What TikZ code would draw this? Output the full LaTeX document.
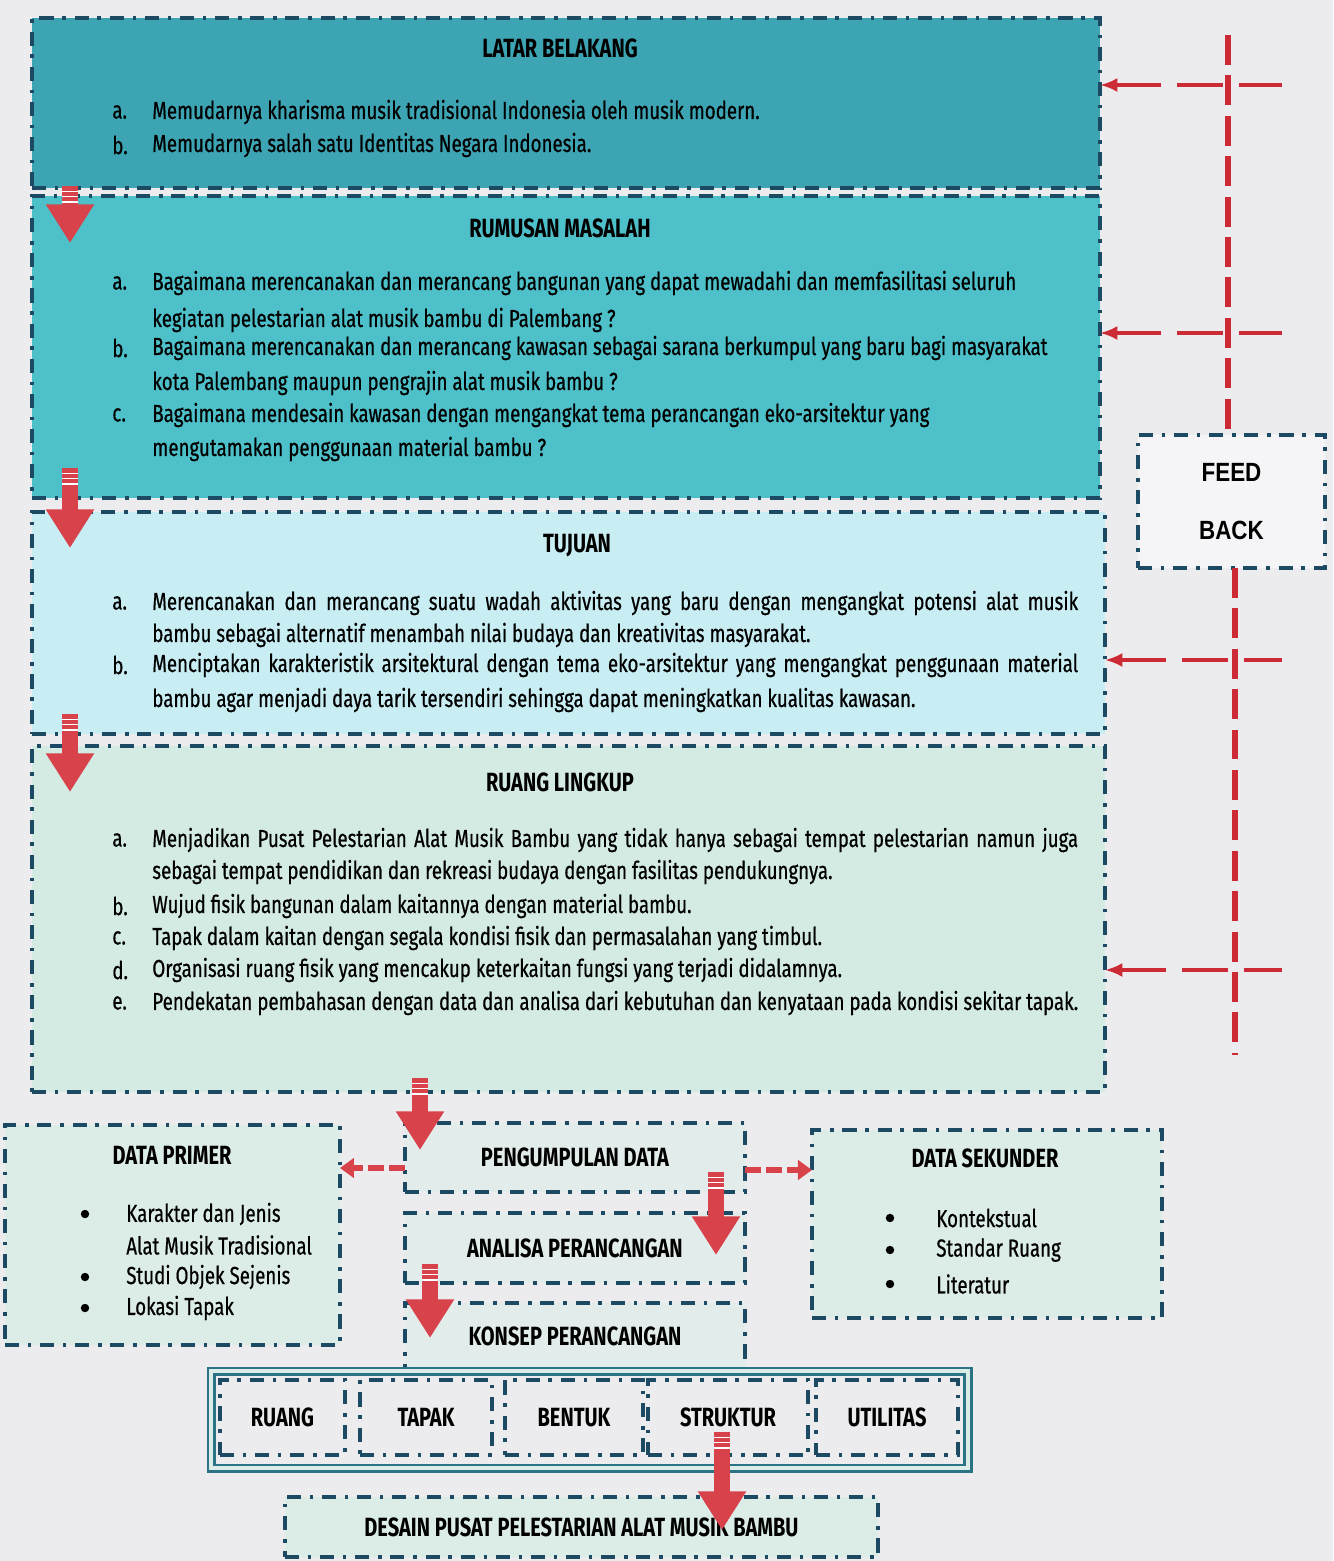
\documentclass[tikz,border=0pt]{standalone}
\usepackage{fontspec}
\setmainfont{Fira Sans}[FakeStretch=0.76, UprightFeatures={FakeBold=0.6}]
\newfontfamily\fbfont{Liberation Sans}[FakeStretch=0.85]
\usetikzlibrary{arrows.meta}
\definecolor{paper}{HTML}{ECECEF}
\definecolor{bLine}{HTML}{1C4A62}
\definecolor{tealA}{HTML}{3DA4B3}
\definecolor{tealB}{HTML}{4EC0C9}
\definecolor{cyanC}{HTML}{C8EDF3}
\definecolor{mintD}{HTML}{D4EBE3}
\definecolor{mintE}{HTML}{DCECE7}
\definecolor{rArrow}{HTML}{D8434B}
\definecolor{fbRed}{HTML}{CC2B36}
\definecolor{frameC}{HTML}{2B7486}
\tikzset{
  panel/.style={draw=bLine, line width=2.1pt, dash pattern=on 8pt off 5pt on 2pt off 5pt,
    anchor=north west, inner sep=0pt, outer sep=0pt},
  head/.style={inner sep=0pt, font=\bfseries\fontsize{15}{17}\selectfont},
  item/.style={anchor=west, inner sep=0pt, font=\fontsize{14}{16}\selectfont},
  bigarrow/.style={draw=rArrow, line width=9pt, -{Triangle[width=26pt,length=22pt]}},
  sidearrow/.style={draw=rArrow, line width=3pt, dash pattern=on 9pt off 3pt, -{Triangle[width=11pt,length=8pt]}},
  fbline/.style={draw=fbRed, line width=2pt, dash pattern=on 26pt off 9pt},
  fbvert/.style={draw=fbRed, line width=3pt, dash pattern=on 17pt off 6pt},
  frame/.style={draw=frameC, line width=1.4pt, double=mintE, double distance=2.5pt,
    anchor=north west, inner sep=0pt, minimum width=15.14cm, minimum height=1.94cm}
}
\newcommand\jl[1]{\makebox[18.52cm][s]{#1}}
\newcommand\bigArrow[2]{%
  \draw[bigarrow] (#1) -- (#2);
  \foreach \k in {3,6,9}
    \draw[white, line width=0.8pt] ([xshift=-4.5pt,yshift=-\k pt]#1) -- ([xshift=4.5pt,yshift=-\k pt]#1);
}
\begin{document}
\begin{tikzpicture}[x=0.02cm, y=-0.02cm]
  \fill[paper] (0,0) rectangle (1333,1561);
  \useasboundingbox (0,0) rectangle (1333,1561);
  % main panels
  \node[panel, fill=tealA, minimum width=21.36cm, minimum height=3.40cm] (lb) at (32,18) {};
  \node[panel, fill=tealB, minimum width=21.36cm, minimum height=6.04cm] (rm) at (32,196) {};
  \node[panel, fill=cyanC, minimum width=21.46cm, minimum height=4.44cm] (tj) at (32,512) {};
  \node[panel, fill=mintD, minimum width=21.46cm, minimum height=6.92cm] (rl) at (32,746) {};

  \node[head] (lbH) at (560,48) {LATAR BELAKANG};
  \foreach \y/\l in {112/a, 145/b} \node[item] (lb\l) at (112,\y) {\l.};
  \foreach \y/\t [count=\n] in {112/{Memudarnya kharisma musik tradisional Indonesia oleh musik modern.},
      145/{Memudarnya salah satu Identitas Negara Indonesia.}}
    \node[item] (lb\n) at (152,\y) {\t};

  \node[head] (rmH) at (560,228) {RUMUSAN MASALAH};
  \foreach \y/\l in {283/a, 348/b, 415/c} \node[item] (rm\l) at (112,\y) {\l.};
  \foreach \y/\t [count=\n] in {283/{Bagaimana merencanakan dan merancang bangunan yang dapat mewadahi dan memfasilitasi seluruh},
      320/{kegiatan pelestarian alat musik bambu di Palembang ?},
      348/{Bagaimana merencanakan dan merancang kawasan sebagai sarana berkumpul yang baru bagi masyarakat},
      383/{kota Palembang maupun pengrajin alat musik bambu ?},
      415/{Bagaimana mendesain kawasan dengan mengangkat tema perancangan eko-arsitektur yang},
      449/{mengutamakan penggunaan material bambu ?}}
    \node[item] (rm\n) at (152,\y) {\t};

  \node[head] (tjH) at (577,546) {TUJUAN};
  \foreach \y/\l in {603/a, 665/b} \node[item] (tj\l) at (112,\y) {\l.};
  \foreach \y/\t [count=\n] in {603/{\jl{Merencanakan dan merancang suatu wadah aktivitas yang baru dengan mengangkat potensi alat musik}},
      635/{bambu sebagai alternatif menambah nilai budaya dan kreativitas masyarakat.},
      665/{\jl{Menciptakan karakteristik arsitektural dengan tema eko-arsitektur yang mengangkat penggunaan material}},
      700/{bambu agar menjadi daya tarik tersendiri sehingga dapat meningkatkan kualitas kawasan.}}
    \node[item] (tj\n) at (152,\y) {\t};

  \node[head] (rlH) at (560,782) {RUANG LINGKUP};
  \foreach \y/\l in {840/a, 906/b, 938/c, 970/d, 1003/e} \node[item] (rl\l) at (112,\y) {\l.};
  \foreach \y/\t [count=\n] in {840/{\jl{Menjadikan Pusat Pelestarian Alat Musik Bambu yang tidak hanya sebagai tempat pelestarian namun juga}},
      872/{sebagai tempat pendidikan dan rekreasi budaya dengan fasilitas pendukungnya.},
      906/{Wujud fisik bangunan dalam kaitannya dengan material bambu.},
      938/{Tapak dalam kaitan dengan segala kondisi fisik dan permasalahan yang timbul.},
      970/{Organisasi ruang fisik yang mencakup keterkaitan fungsi yang terjadi didalamnya.},
      1003/{Pendekatan pembahasan dengan data dan analisa dari kebutuhan dan kenyataan pada kondisi sekitar tapak.}}
    \node[item] (rl\n) at (152,\y) {\t};

  % feed back
  \node[panel, fill=paper!50!white, minimum width=3.74cm, minimum height=2.66cm, align=center,
    font=\fbfont\bfseries\fontsize{15}{33}\selectfont] (feed) at (1138,435) {FEED\\BACK};
  \coordinate (fbTop) at (1228,35);
  \coordinate (fbBot) at (1235,1055);
  \draw[fbvert] (fbTop) -- (fbTop |- feed.north);
  \draw[fbvert] (fbBot |- feed.south) -- (fbBot);
  \foreach \y [count=\n] in {85,333,660,970} \coordinate (fbR\n) at (1282,\y);
  \foreach \n/\b in {1/lb, 2/rm, 3/tj, 4/rl}
    \draw[fbline, {Latex[length=10pt,width=8pt]}-] (fbR\n -| \b.east) -- (fbR\n);

  % data boxes
  \node[panel, fill=mintE, minimum width=6.70cm, minimum height=4.40cm] (dp) at (5,1125) {};
  \node[panel, fill=mintE!60!paper, minimum width=6.80cm, minimum height=1.38cm, head, anchor=north west] (pd) at (405,1123) {PENGUMPULAN DATA};
  \node[panel, fill=mintE!60!paper, minimum width=6.80cm, minimum height=1.40cm, head, anchor=north west] (ap) at (405,1213) {ANALISA PERANCANGAN};
  \node[panel, fill=mintE!60!paper, minimum width=6.80cm, minimum height=1.34cm, head, anchor=north west] (kp) at (405,1303) {KONSEP PERANCANGAN};
  \node[panel, fill=mintE, minimum width=7.00cm, minimum height=3.76cm] (ds) at (812,1130) {};

  \node[head] (dpH) at (172,1155) {DATA PRIMER};
  \foreach \y in {1214,1277,1308} \fill[black] (85,\y) circle[radius=2.4pt];
  \foreach \y/\t [count=\n] in {1214/Karakter dan Jenis, 1245/Alat Musik Tradisional, 1277/Studi Objek Sejenis, 1308/Lokasi Tapak}
    \node[item] (dp\n) at (126,\y) {\t};
  \node[head] (dsH) at (985,1158) {DATA SEKUNDER};
  \foreach \y in {1218,1250,1284} \fill[black] (890,\y) circle[radius=2.4pt];
  \foreach \y/\t [count=\n] in {1218/Kontekstual, 1250/Standar Ruang, 1284/Literatur}
    \node[item] (ds\n) at (936,\y) {\t};

  \coordinate (pdL) at (405,1168);
  \coordinate (pdR) at (745,1170);
  \draw[sidearrow] (pdL) -- (pdL -| dp.east);
  \draw[sidearrow] (pdR) -- (pdR -| ds.west);

  % konsep
  \node[frame] (kf) at (210,1370) {};
  \foreach \x/\w/\t in {220/2.50/RUANG, 360/2.64/TAPAK, 505/2.76/BENTUK, 648/3.20/STRUKTUR, 816/2.84/UTILITAS}
    \node[panel, head, anchor=north west, minimum width=\w cm, minimum height=1.50cm] (k\t) at (\x,1380) {\t};
  \node[panel, fill=mintE, head, minimum width=11.86cm, minimum height=1.20cm] (dsn) at (285,1497) {DESAIN PUSAT PELESTARIAN ALAT MUSIK BAMBU};

  % red arrows
  \foreach \n/\xa/\ya/\yb in {1/70/186/243, 2/70/468/548, 3/70/714/792, 4/420/1078/1150,
      5/716/1172/1255, 6/430/1264/1338, 7/722/1432/1530} {
    \coordinate (s\n) at (\xa,\ya);
    \coordinate (e\n) at (\xa,\yb);
    \bigArrow{s\n}{e\n}
  }
\end{tikzpicture}
\end{document}
